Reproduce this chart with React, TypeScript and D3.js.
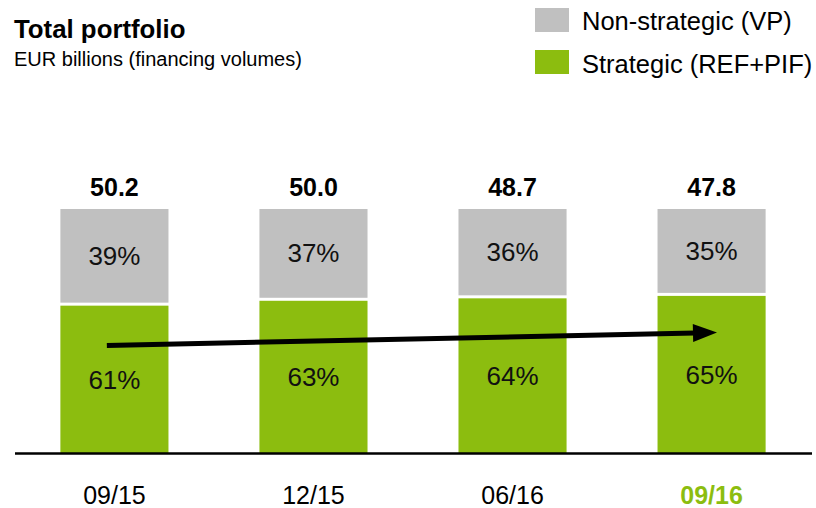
import React from "react";
import * as d3 from "d3";

const categories = ["09/15", "12/15", "06/16", "09/16"];
const strategicPct = [61, 63, 64, 65];
const nonStrategicPct = [39, 37, 36, 35];
const totals = ["50.2", "50.0", "48.7", "47.8"];
const legendLabels = ["Non-strategic (VP)", "Strategic (REF+PIF)"];

const W = 816;
const H = 508;
const GREEN = "#8cbd0f";
const GRAY = "#c0c0c0";
const FONT = "'Liberation Sans', Arial, sans-serif";

export default function App() {
  const x = d3
    .scaleBand<string>()
    .domain(categories)
    .range([15, 811])
    .paddingInner(0.457)
    .paddingOuter(0.228);
  const y = d3.scaleLinear().domain([0, 100]).range([453, 209]);
  const bw = x.bandwidth();

  const ax0 = (x(categories[0]) as number) + bw * 0.43;
  const ax1 = (x(categories[3]) as number) + bw * 0.55;
  const ay0 = 345.5;
  const ay1 = 332.5;
  const ang = Math.atan2(ay1 - ay0, ax1 - ax0);
  const headLen = 24;
  const headW = 9;
  const bx = ax1 - headLen * Math.cos(ang);
  const by = ay1 - headLen * Math.sin(ang);
  const px = -Math.sin(ang);
  const py = Math.cos(ang);

  return (
    <svg
      width={W}
      height={H}
      style={{ position: "absolute", left: 0, top: 0, background: "#fff" }}
      fontFamily={FONT}
    >
      <text x={14} y={38} fontSize={25.8} fontWeight="bold" fill="#000">
        Total portfolio
      </text>
      <text x={14} y={66} fontSize={20} fill="#000">
        EUR billions (financing volumes)
      </text>

      <rect x={535} y={8} width={34} height={24} fill={GRAY} />
      <text x={582} y={30} fontSize={25.5} fill="#000">
        {legendLabels[0]}
      </text>
      <rect x={535} y={50} width={34} height={24} fill={GREEN} />
      <text x={582} y={73} fontSize={25.5} fill="#000">
        {legendLabels[1]}
      </text>

      {categories.map((c, i) => {
        const bx0 = x(c) as number;
        const cx = bx0 + bw / 2;
        const split = y(strategicPct[i]);
        return (
          <g key={c}>
            <rect x={bx0} y={y(100)} width={bw} height={split - 1.5 - y(100)} fill={GRAY} />
            <rect x={bx0} y={split + 1.5} width={bw} height={y(0) - split - 1.5} fill={GREEN} />
            <text x={cx} y={196} textAnchor="middle" fontSize={25} fontWeight="bold" fill="#000">
              {totals[i]}
            </text>
            <text
              x={cx}
              y={(y(100) + split) / 2 + 8}
              textAnchor="middle"
              fontSize={26}
              fill="#111"
            >
              {nonStrategicPct[i]}%
            </text>
            <text
              x={cx}
              y={(split + y(0)) / 2 + 10}
              textAnchor="middle"
              fontSize={26}
              fill="#111"
            >
              {strategicPct[i]}%
            </text>
            <text
              x={cx}
              y={504}
              textAnchor="middle"
              fontSize={25}
              fontWeight={i === 3 ? "bold" : "normal"}
              fill={i === 3 ? GREEN : "#000"}
            >
              {c}
            </text>
          </g>
        );
      })}

      <line x1={15} x2={812} y1={453.5} y2={453.5} stroke="#000" strokeWidth={2.5} />

      <line x1={ax0} y1={ay0} x2={bx + 2 * Math.cos(ang)} y2={by + 2 * Math.sin(ang)} stroke="#000" strokeWidth={5} />
      <path
        d={`M${ax1},${ay1} L${bx + px * headW},${by + py * headW} L${bx - px * headW},${by - py * headW} Z`}
        fill="#000"
      />
    </svg>
  );
}
